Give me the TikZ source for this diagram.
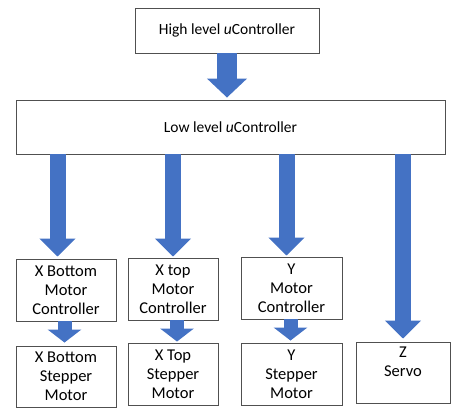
\documentclass[tikz,border=0pt]{standalone}
\usepackage{fontspec}
\setmainfont{Carlito}
\usetikzlibrary{arrows.meta}

\definecolor{arrowblue}{HTML}{4472C4}
\definecolor{boxgray}{HTML}{505050}

\tikzset{
    box/.style={draw=boxgray, line width=0.9pt, rectangle, align=center,
        inner sep=0pt, font=\fontsize{15.5}{18.8}\selectfont},
    unit/.style={box, font=\fontsize{16.5}{18.8}\selectfont},
    bigarrow/.style={draw=arrowblue, line width=20pt,
        -{Triangle[length=19pt, width=39pt]}},
    colarrow/.style={draw=arrowblue, line width=16pt,
        -{Triangle[length=18pt, width=35pt]}},
    smallarrow/.style={draw=arrowblue, line width=14pt,
        -{Triangle[length=13pt, width=33pt]}},
}

\begin{document}
\begin{tikzpicture}[x=1pt, y=-1pt]
                \useasboundingbox (0,0) rectangle (451,410);
                \begin{scope}[
                        every node/.style={box},
                    ]

                    \node[minimum width=184pt, minimum height=45pt] (high) at (227,30.5) {High level \textit{u}Controller};
                    \node[minimum width=429pt, minimum height=54pt] (low) at (230.5,127) {Low level \textit{u}Controller};
                \end{scope}

                \begin{scope}[
                        every node/.style={unit},
                    ]

                    \node[minimum width=100pt, minimum height=62pt] (xbc) at (66,290) {X Bottom\\Motor\\Controller};
                    \node[minimum width=90pt, minimum height=62pt] (xtc) at (173,289) {X top\\Motor\\Controller};
                    \node[minimum width=101pt, minimum height=62pt] (yc) at (291.5,288) {Y\\Motor\\Controller};

                    \node[minimum width=100pt, minimum height=61pt] (xbm) at (66,376.5) {X Bottom\\Stepper\\Motor};
                    \node[minimum width=90pt, minimum height=62pt] (xtm) at (173,374) {X Top\\Stepper\\Motor};
                    \node[minimum width=101pt, minimum height=62pt] (ym) at (291.5,374) {Y\\Stepper\\Motor};
                    \node[minimum width=94pt, minimum height=61pt] (zs) at (403,372.5) {};
                    \node[draw=none, anchor=north] (zslabel) at ([yshift=-5pt]zs.north) {Z\\Servo};
                \end{scope}

                % block arrows
                \draw[bigarrow] (high.south) -- ([yshift=2pt]low.north -| high.south);

                \draw[colarrow] ([xshift=-8.5pt]xbc.north |- low.south) -- ([xshift=-8.5pt, yshift=2pt]xbc.north);
                \draw[colarrow] (xtc.north |- low.south) -- ([yshift=1pt]xtc.north);
                \draw[colarrow] ([xshift=-5pt]yc.north |- low.south) -- ([xshift=-5pt, yshift=1pt]yc.north);
                \draw[colarrow] (zs.north |- low.south) -- ([yshift=3pt]zs.north);

                \draw[smallarrow] ([xshift=-1.5pt]xbc.south) -- ([xshift=-1.5pt, yshift=3pt]xbm.north);
                \draw[smallarrow] ([xshift=4pt]xtc.south) -- ([xshift=4pt, yshift=1pt]xtm.north);
                \draw[smallarrow] ([xshift=-1pt]yc.south) -- ([xshift=-1pt, yshift=2pt]ym.north);
            \end{tikzpicture}
\end{document}
